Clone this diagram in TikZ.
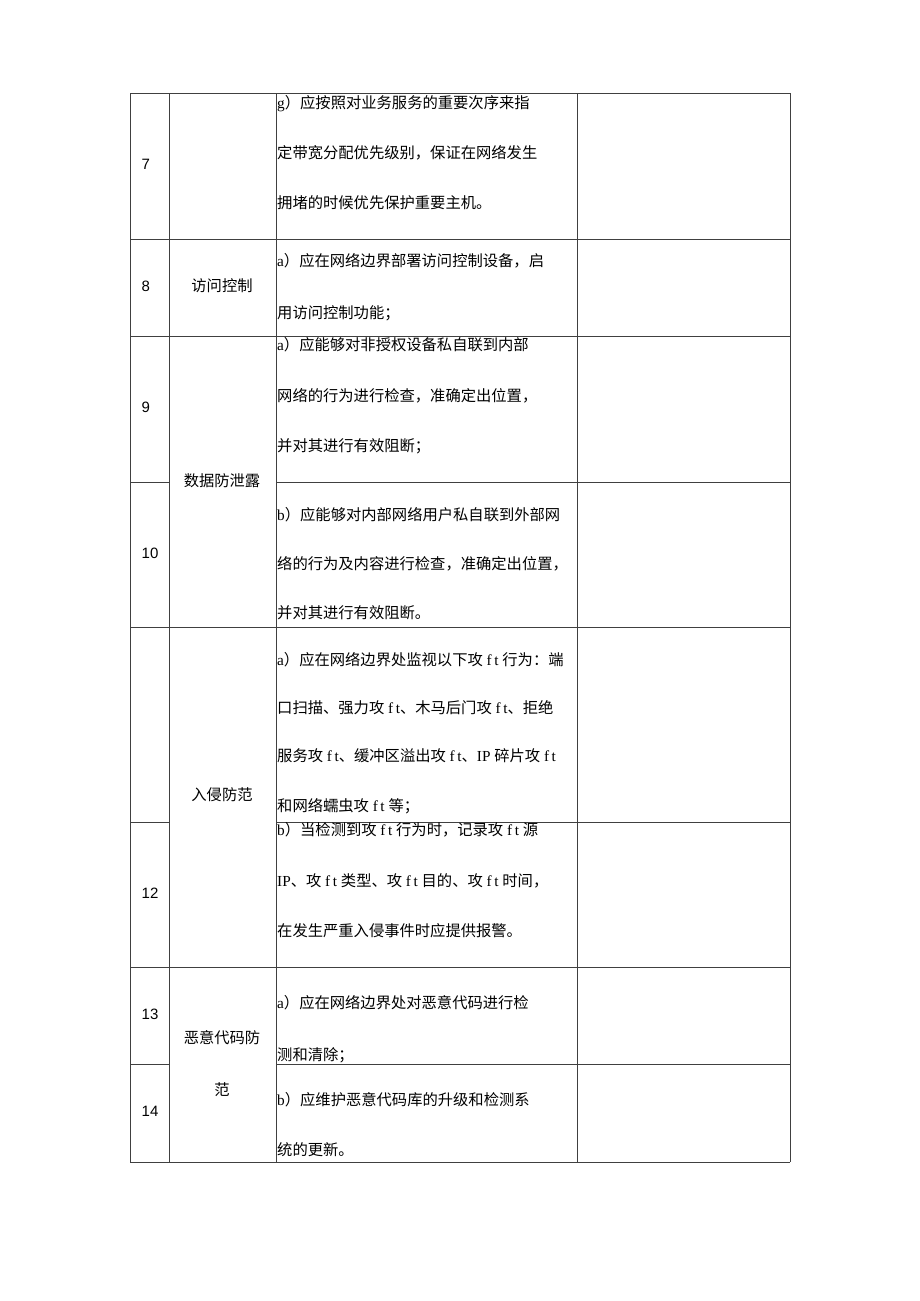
\documentclass[tikz,border=0pt]{standalone}
\usepackage{fontspec}
\setmainfont{Liberation Serif}
\newfontfamily\cjk{Noto Sans CJK SC}
\newfontfamily\latf{Liberation Serif}
\newfontfamily\numf{Liberation Sans}
\newcommand{\lt}[1]{{\latf #1}}
\tikzset{
  grid/.style={draw=black!75, line width=0.9pt},
  cell/.style={anchor=west, inner sep=0pt, font=\cjk\fontsize{15.3}{18}\selectfont, text=black, text height=0.76em, text depth=0pt},
  num/.style={anchor=west, inner sep=0pt, font=\numf\fontsize{15}{17}\selectfont, text=black, text height=0.716em, text depth=0pt},
  cat/.style={anchor=center, inner sep=0pt, font=\cjk\fontsize{15.3}{18}\selectfont, text=black, text height=0.76em, text depth=0pt}
}
\begin{document}
\begin{tikzpicture}[x=1pt,y=-1pt]
\useasboundingbox (0,0) rectangle (920,1301);
% vertical lines
\draw[grid] (130,93) -- (130,1162);
\draw[grid] (169,93) -- (169,1162);
\draw[grid] (276,93) -- (276,1162);
\draw[grid] (577,93) -- (577,1162);
\draw[grid] (790,93) -- (790,1162);
% full horizontal lines
\foreach \yy in {93,239,336,627,967,1162}{\draw[grid] (130,\yy) -- (790,\yy);}
% partial horizontal lines (merged second column)
\foreach \yy in {482,822,1064}{
  \draw[grid] (130,\yy) -- (169,\yy);
  \draw[grid] (276,\yy) -- (790,\yy);
}
% row numbers
\node[num] (n7) at (141.5,166) {7};
\node[num] (n8) at (141.5,288) {8};
\node[num] (n9) at (141.5,409) {9};
\node[num] (n10) at (141.5,555) {10};
\node[num] (n12) at (141.5,895) {12};
\node[num] (n13) at (141.5,1016) {13};
\node[num] (n14) at (141.5,1113) {14};
% categories
\node[cat] (c8) at (222,288) {访问控制};
\node[cat] (c9) at (222,483) {数据防泄露};
\node[cat] (c11) at (222,797) {入侵防范};
\node[cat] (c13a) at (222,1040) {恶意代码防};
\node[cat] (c13b) at (222,1092) {范};
% row 7
\node[cell] (r7a) at (277,105) {\lt{g}）应按照对业务服务的重要次序来指};
\node[cell] (r7b) at (277,155) {定带宽分配优先级别，保证在网络发生};
\node[cell] (r7c) at (277,205) {拥堵的时候优先保护重要主机。};
% row 8
\node[cell] (r8a) at (277,263) {\lt{a}）应在网络边界部署访问控制设备，启};
\node[cell] (r8b) at (277,315) {用访问控制功能；};
% row 9
\node[cell] (r9a) at (277,347) {\lt{a}）应能够对非授权设备私自联到内部};
\node[cell] (r9b) at (277,398) {网络的行为进行检查，准确定出位置，};
\node[cell] (r9c) at (277,448) {并对其进行有效阻断；};
% row 10
\node[cell] (r10a) at (277,517) {\lt{b}）应能够对内部网络用户私自联到外部网};
\node[cell] (r10b) at (277,566) {络的行为及内容进行检查，准确定出位置，};
\node[cell] (r10c) at (277,615) {并对其进行有效阻断。};
% row 11
\node[cell] (r11a) at (277,662) {\lt{a}）应在网络边界处监视以下攻\lt{\ f\,t\ }行为：端};
\node[cell] (r11b) at (277,710) {口扫描、强力攻\lt{\ f\,t}、木马后门攻\lt{\ f\,t}、拒绝};
\node[cell] (r11c) at (277,758) {服务攻\lt{\ f\,t}、缓冲区溢出攻\lt{\ f\,t}、\lt{IP\ }碎片攻\lt{\ f\,t}};
\node[cell] (r11d) at (277,808) {和网络蠕虫攻\lt{\ f\,t\ }等；};
% row 12
\node[cell] (r12a) at (277,832) {\lt{b}）当检测到攻\lt{\ f\,t\ }行为时，记录攻\lt{\ f\,t\ }源};
\node[cell] (r12b) at (277,883) {\lt{IP}、攻\lt{\ f\,t\ }类型、攻\lt{\ f\,t\ }目的、攻\lt{\ f\,t\ }时间，};
\node[cell] (r12c) at (277,933) {在发生严重入侵事件时应提供报警。};
% row 13
\node[cell] (r13a) at (277,1005) {\lt{a}）应在网络边界处对恶意代码进行检};
\node[cell] (r13b) at (277,1057) {测和清除；};
% row 14
\node[cell] (r14a) at (277,1102) {\lt{b}）应维护恶意代码库的升级和检测系};
\node[cell] (r14b) at (277,1152) {统的更新。};
\end{tikzpicture}
\end{document}
